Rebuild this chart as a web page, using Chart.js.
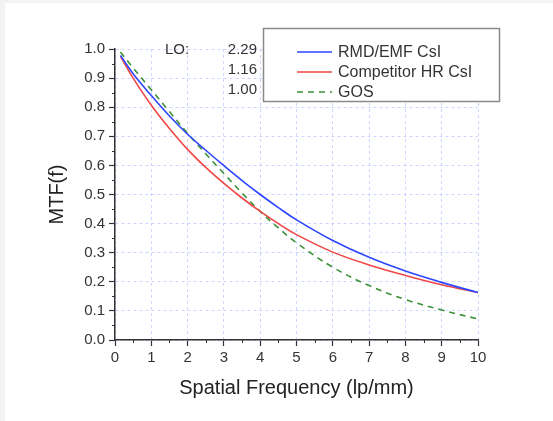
<!DOCTYPE html>
<html>
<head>
<meta charset="utf-8">
<script src="https://cdn.jsdelivr.net/npm/chart.js@4.4.1/dist/chart.umd.min.js"></script>
<style>
  html, body { margin: 0; padding: 0; background: #f3f3f3; }
  .paper { position: absolute; left: 5px; top: 3px; right: 0; bottom: 0; background: #fff; }
  #mtf { position: absolute; left: 0; top: 0; }
</style>
</head>
<body>
<div class="paper"></div>
<canvas id="mtf" width="553" height="421"></canvas>
<script>
// dane
const freq = [0.15, 0.5, 1, 1.5, 2, 2.5, 3, 3.5, 4, 4.5, 5, 6, 7, 8, 9, 10]
const rmdEmf = [0.978, 0.915, 0.84, 0.77, 0.707, 0.652, 0.599, 0.548, 0.5, 0.455, 0.413, 0.342, 0.284, 0.237, 0.198, 0.163]
const competitor = [0.975, 0.9, 0.807, 0.727, 0.655, 0.593, 0.538, 0.488, 0.442, 0.4, 0.362, 0.302, 0.258, 0.222, 0.19, 0.163]
const gos = [0.99, 0.935, 0.86, 0.785, 0.71, 0.64, 0.572, 0.505, 0.442, 0.385, 0.334, 0.25, 0.187, 0.139, 0.103, 0.072]

const seriesNames = ["RMD/EMF CsI", "Competitor HR CsI", "GOS"]
const loLabel = "LO:"
const loValues = ["2.29", "1.16", "1.00"]

const FONT = "'Liberation Sans', Arial, sans-serif"
const TEXT = "#333"

function toPoints(ys) {
    return freq.map((x, i) => ({ x, y: ys[i] }))
}

// male kreski miedzy glownymi podzialkami
const minorTicks = {
    id: "minorTicks",
    afterDraw(chart) {
        const ctx = chart.ctx
        const xs = chart.scales.x
        const ys = chart.scales.y
        ctx.save()
        ctx.strokeStyle = TEXT
        ctx.lineWidth = 1
        ctx.beginPath()
        for (let v = 0.5; v < 10; v += 1) {
            const px = Math.round(xs.getPixelForValue(v)) + 0.5
            ctx.moveTo(px, ys.bottom)
            ctx.lineTo(px, ys.bottom + 3)
        }
        for (let v = 0.05; v < 1; v += 0.1) {
            const py = Math.round(ys.getPixelForValue(v)) + 0.5
            ctx.moveTo(xs.left - 3, py)
            ctx.lineTo(xs.left, py)
        }
        ctx.stroke()
        ctx.restore()
    }
}

// legenda w ramce i napisy LO
const overlay = {
    id: "overlay",
    afterDraw(chart) {
        const ctx = chart.ctx
        ctx.save()
        // ramka legendy
        ctx.fillStyle = "#fff"
        ctx.fillRect(263, 28, 237, 74)
        ctx.strokeStyle = "#8a8a8a"
        ctx.lineWidth = 1.5
        ctx.strokeRect(263.5, 28.5, 236, 73)

        ctx.font = "16px " + FONT
        ctx.textBaseline = "middle"
        chart.data.datasets.forEach((ds, i) => {
            const y = 52 + i * 20
            ctx.strokeStyle = ds.borderColor
            ctx.lineWidth = ds.borderWidth
            ctx.setLineDash(ds.borderDash || [])
            ctx.beginPath()
            ctx.moveTo(297, y)
            ctx.lineTo(332, y)
            ctx.stroke()
            ctx.setLineDash([])
            ctx.fillStyle = TEXT
            ctx.textAlign = "left"
            ctx.fillText(ds.label, 338, y + 1)
        })

        ctx.font = "15px " + FONT
        ctx.fillStyle = TEXT
        ctx.textAlign = "left"
        ctx.fillText(loLabel, 165, 50)
        ctx.textAlign = "right"
        loValues.forEach((v, i) => ctx.fillText(v, 257, 50 + i * 20))
        ctx.restore()
    }
}

const gridStyle = {
    color: "rgba(185, 196, 255, 0.7)",
    lineWidth: 1,
    tickColor: TEXT,
    tickLength: 6,
    tickWidth: 1.2
}

new Chart(document.getElementById("mtf"), {
    type: "line",
    data: {
        datasets: [
            {
                label: seriesNames[0],
                data: toPoints(rmdEmf),
                borderColor: "rgb(45, 70, 255)",
                borderWidth: 1.6
            },
            {
                label: seriesNames[1],
                data: toPoints(competitor),
                borderColor: "rgb(240, 70, 70)",
                borderWidth: 1.6
            },
            {
                label: seriesNames[2],
                data: toPoints(gos),
                borderColor: "rgb(60, 145, 55)",
                borderWidth: 1.6,
                borderDash: [6, 5]
            }
        ]
    },
    options: {
        responsive: false,
        animation: false,
        devicePixelRatio: 1,
        layout: { padding: { left: 0, top: 49, right: 75, bottom: 0 } },
        elements: {
            point: { radius: 0 },
            line: { tension: 0.4, fill: false }
        },
        plugins: {
            legend: { display: false },
            tooltip: { enabled: false }
        },
        scales: {
            x: {
                type: "linear",
                min: 0,
                max: 10,
                afterFit: (scale) => { scale.height = 81 },
                ticks: {
                    stepSize: 1,
                    color: TEXT,
                    padding: 3,
                    maxRotation: 0,
                    font: { family: FONT, size: 15 }
                },
                grid: gridStyle,
                border: { display: true, color: TEXT, width: 1.5, dash: [3, 3] },
                title: {
                    display: true,
                    text: "Spatial Frequency (lp/mm)",
                    color: "#222",
                    font: { family: FONT, size: 20 },
                    padding: { top: 0, bottom: 21 }
                }
            },
            y: {
                min: 0,
                max: 1,
                afterFit: (scale) => { scale.width = 115 },
                ticks: {
                    stepSize: 0.1,
                    color: TEXT,
                    padding: 4,
                    font: { family: FONT, size: 15 },
                    callback: (v) => v.toFixed(1)
                },
                grid: gridStyle,
                border: { display: true, color: TEXT, width: 1.5, dash: [3, 3] },
                title: {
                    display: true,
                    text: "MTF(f)",
                    color: "#222",
                    font: { family: FONT, size: 20 },
                    padding: { top: 45, bottom: 0 }
                }
            }
        }
    },
    plugins: [minorTicks, overlay]
})
</script>
</body>
</html>
